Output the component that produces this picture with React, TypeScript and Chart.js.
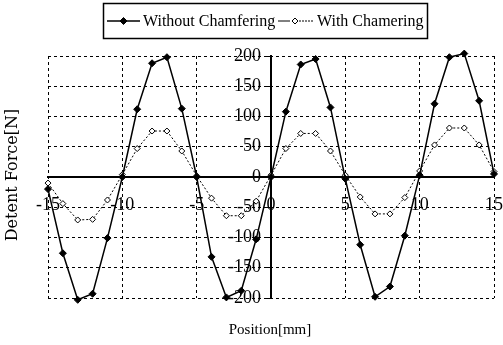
import React, { useEffect, useRef } from "react";
import { Chart, registerables } from "chart.js";

Chart.register(...registerables);

const positions = [-15, -14, -13, -12, -11, -10, -9, -8, -7, -6, -5, -4, -3, -2, -1, 0, 1, 2, 3, 4, 5, 6, 7, 8, 9, 10, 11, 12, 13, 14, 15];
const withoutChamfering = [-20, -126, -203, -193, -101, 0, 112, 188, 198, 113, 0, -132, -199, -188, -103, 0, 108, 186, 195, 115, -3, -112, -198, -181, -97, 3, 121, 198, 204, 126, 5];
const withChamfering = [-10, -44, -71, -70, -38, 4, 47, 76, 76, 43, 2, -35, -64, -64, -40, 3, 47, 72, 72, 43, 3, -33, -61, -61, -34, 10, 53, 81, 81, 53, 9];
const seriesNames = ["Without Chamfering", "With Chamering"];
const xTitle = "Position[mm]";
const yTitle = "Detent Force[N]";

const SERIF = "'Liberation Serif', 'Times New Roman', serif";

function drawDiamond(ctx: CanvasRenderingContext2D, x: number, y: number, r: number, filled: boolean) {
  ctx.beginPath();
  ctx.moveTo(x, y - r);
  ctx.lineTo(x + r, y);
  ctx.lineTo(x, y + r);
  ctx.lineTo(x - r, y);
  ctx.closePath();
  ctx.fillStyle = filled ? "#000" : "#fff";
  ctx.fill();
  ctx.lineWidth = 1;
  ctx.strokeStyle = "#000";
  ctx.stroke();
}

// offsets the centred-axis tick labels away from the axis lines
const shiftLabels = {
  id: "shiftLabels",
  beforeDraw(chart: any) {
    const ys = chart.scales.y.getLabelItems();
    if (!(ys as any).__shifted) {
      ys.forEach((it: any) => {
        it.options.translation[0] -= 10;
      });
      (ys as any).__shifted = true;
    }
    const xs = chart.scales.x.getLabelItems();
    if (!(xs as any).__shifted) {
      xs.forEach((it: any) => {
        it.options.translation[1] += 17;
      });
      (xs as any).__shifted = true;
    }
  },
};

const decorPlugin = {
  id: "decor",
  afterDraw(chart: any) {
    const ctx: CanvasRenderingContext2D = chart.ctx;
    ctx.save();
    ctx.setLineDash([]);
    ctx.lineWidth = 1.5;
    ctx.strokeStyle = "#000";
    ctx.strokeRect(103.5, 3.5, 324, 35);
    const ly = 21;
    ctx.beginPath();
    ctx.moveTo(107, ly);
    ctx.lineTo(140, ly);
    ctx.lineWidth = 1.5;
    ctx.stroke();
    drawDiamond(ctx, 123.5, ly, 3.5, true);
    ctx.fillStyle = "#000";
    ctx.font = `16px ${SERIF}`;
    ctx.textBaseline = "middle";
    ctx.textAlign = "left";
    ctx.fillText(seriesNames[0], 143, ly + 1);
    ctx.beginPath();
    ctx.lineWidth = 1;
    ctx.moveTo(278, ly);
    ctx.lineTo(290, ly);
    ctx.stroke();
    ctx.beginPath();
    ctx.setLineDash([2, 1]);
    ctx.moveTo(299, ly);
    ctx.lineTo(313, ly);
    ctx.stroke();
    ctx.setLineDash([]);
    drawDiamond(ctx, 295, ly, 3, false);
    ctx.fillStyle = "#000";
    ctx.fillText(seriesNames[1], 317, ly + 1);
    ctx.font = `15px ${SERIF}`;
    ctx.textAlign = "center";
    ctx.fillText(xTitle, 270, 330);
    ctx.save();
    ctx.translate(13, 175);
    ctx.rotate(-Math.PI / 2);
    ctx.font = "16px 'DejaVu Serif', serif";
    ctx.fillText(yTitle, 0, 0);
    ctx.restore();
    ctx.restore();
  },
};

export default function App() {
  const ref = useRef<HTMLCanvasElement | null>(null);
  useEffect(() => {
    if (!ref.current) return;
    const chart = new Chart(ref.current, {
      type: "line",
      data: {
        datasets: [
          {
            label: seriesNames[0],
            data: positions.map((x, i) => ({ x, y: withoutChamfering[i] })),
            borderColor: "#000",
            borderWidth: 1.5,
            pointStyle: "rectRot",
            pointRadius: 3.5,
            pointBackgroundColor: "#000",
            pointBorderColor: "#000",
            pointBorderWidth: 1,
            tension: 0,
            clip: false as any,
          },
          {
            label: seriesNames[1],
            data: positions.map((x, i) => ({ x, y: withChamfering[i] })),
            borderColor: "#000",
            borderWidth: 1,
            borderDash: [2, 2],
            pointStyle: "rectRot",
            pointRadius: 3,
            pointBackgroundColor: "#fff",
            pointBorderColor: "#000",
            pointBorderWidth: 1,
            tension: 0,
            clip: false as any,
          },
        ],
      },
      options: {
        animation: false,
        responsive: true,
        maintainAspectRatio: false,
        layout: { padding: { left: 48, right: 9, top: 56, bottom: 47 } },
        plugins: { legend: { display: false }, tooltip: { enabled: false } },
        scales: {
          x: {
            type: "linear",
            position: { y: 0 } as any,
            min: -15,
            max: 15,
            ticks: {
              stepSize: 5,
              color: "#000",
              font: { family: SERIF, size: 18 },
              padding: 0,
              maxRotation: 0,
            },
            grid: { color: "#000", lineWidth: 1, drawTicks: false },
            border: { display: true, color: "#000", width: 2, dash: [3, 3] },
          },
          y: {
            type: "linear",
            position: { x: 0 } as any,
            min: -200,
            max: 200,
            ticks: {
              stepSize: 50,
              color: "#000",
              font: { family: SERIF, size: 18 },
              padding: 0,
            },
            grid: { color: "#000", lineWidth: 1, drawTicks: true, tickLength: 3 },
            border: { display: true, color: "#000", width: 2, dash: [3, 3] },
          },
        },
      },
      plugins: [shiftLabels, decorPlugin],
    });
    return () => chart.destroy();
  }, []);
  return (
    <div style={{ position: "absolute", left: 0, top: 0, width: 503, height: 345 }}>
      <canvas ref={ref} />
    </div>
  );
}
